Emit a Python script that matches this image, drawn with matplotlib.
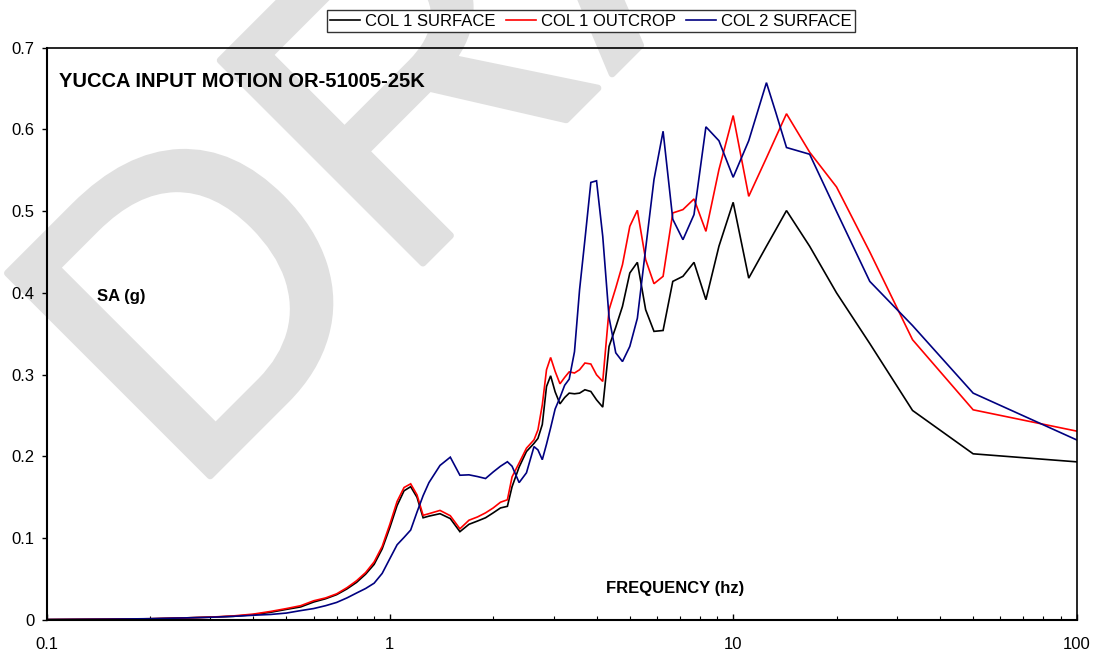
import matplotlib
matplotlib.use("Agg")
import matplotlib.pyplot as plt
from matplotlib import font_manager
from matplotlib.ticker import FixedLocator, FixedFormatter, LogLocator, NullFormatter
import matplotlib.patheffects as pe

# ---------------- data ----------------
freq_hz = [0.10, 0.15, 0.20, 0.25, 0.30, 0.35, 0.40, 0.45, 0.50, 0.55, 0.60, 0.65,
           0.70, 0.75, 0.80, 0.85, 0.90, 0.95, 1.00, 1.05, 1.10, 1.15, 1.20, 1.25,
           1.30, 1.40, 1.50, 1.60, 1.70, 1.80, 1.90, 2.00, 2.10, 2.20, 2.27, 2.38,
           2.50, 2.63, 2.70, 2.78, 2.86, 2.94, 3.03, 3.13, 3.23, 3.33, 3.45, 3.57,
           3.70, 3.85, 4.00, 4.17, 4.35, 4.55, 4.76, 5.00, 5.26, 5.56, 5.88, 6.25,
           6.67, 7.14, 7.69, 8.33, 9.09, 10.0, 11.1, 12.5, 13.3, 14.3, 16.7, 20.0,
           25.0, 33.3, 50.0, 100.0]

col1_surface = [0.0005, 0.001, 0.0015, 0.0025, 0.0035, 0.0045, 0.0065, 0.0095, 0.013, 0.016, 0.022, 0.026,
                0.031, 0.038, 0.046, 0.056, 0.068, 0.087, 0.113, 0.140, 0.158, 0.163, 0.150, 0.125,
                0.127, 0.130, 0.124, 0.108, 0.117, 0.121, 0.125, 0.131, 0.137, 0.139, 0.163, 0.187,
                0.206, 0.216, 0.222, 0.239, 0.2855, 0.2986, 0.279, 0.2643, 0.272, 0.2774, 0.2766, 0.2774,
                0.2815, 0.2794, 0.2692, 0.2603, 0.3345, 0.358, 0.3835, 0.4243, 0.4373, 0.3794, 0.3529, 0.354,
                0.414, 0.4202, 0.4373, 0.3916, 0.457, 0.5107, 0.418, 0.457, 0.477, 0.5006, 0.457, 0.400,
                0.338, 0.2562, 0.2032, 0.1934]

col1_outcrop = [0.0005, 0.001, 0.0015, 0.0025, 0.0035, 0.005, 0.0072, 0.0105, 0.014, 0.0175, 0.0235, 0.027,
                0.032, 0.0395, 0.048, 0.058, 0.071, 0.090, 0.117, 0.145, 0.162, 0.1665, 0.153, 0.128,
                0.130, 0.134, 0.1275, 0.1115, 0.122, 0.126, 0.131, 0.137, 0.144, 0.147, 0.175, 0.192,
                0.2101, 0.2203, 0.2325, 0.263, 0.306, 0.321, 0.304, 0.2888, 0.2966, 0.3034, 0.302, 0.306,
                0.3142, 0.313, 0.2998, 0.2917, 0.3794, 0.406, 0.4345, 0.4814, 0.501, 0.4406, 0.4112, 0.4202,
                0.4977, 0.5018, 0.5148, 0.4752, 0.5507, 0.6168, 0.518, 0.565, 0.590, 0.619, 0.572, 0.5295,
                0.450, 0.3427, 0.257, 0.231]

col2_surface = [0.0005, 0.001, 0.0016, 0.0025, 0.0033, 0.0045, 0.0058, 0.0068, 0.0085, 0.0115, 0.014, 0.0175,
                0.0215, 0.027, 0.033, 0.0385, 0.045, 0.057, 0.075, 0.092, 0.101, 0.110, 0.132, 0.152,
                0.168, 0.189, 0.1991, 0.177, 0.1775, 0.1754, 0.173, 0.181, 0.188, 0.1935, 0.188, 0.168,
                0.180, 0.212, 0.208, 0.196, 0.215, 0.235, 0.258, 0.272, 0.287, 0.2945, 0.328, 0.404,
                0.465, 0.535, 0.537, 0.469, 0.370, 0.3267, 0.316, 0.3345, 0.369, 0.454, 0.5385, 0.5976,
                0.490, 0.465, 0.4957, 0.603, 0.586, 0.5413, 0.586, 0.657, 0.621, 0.5777, 0.5695, 0.4995,
                0.414, 0.360, 0.2774, 0.2203]

series_labels = ["COL 1 SURFACE", "COL 1 OUTCROP", "COL 2 SURFACE"]
series_colors = ["#000000", "#ff0000", "#000080"]

xtick_values = [0.1, 1, 10, 100]
xtick_labels = ["0.1", "1", "10", "100"]
ytick_values = [0, 0.1, 0.2, 0.3, 0.4, 0.5, 0.6, 0.7]
ytick_labels = ["0", "0.1", "0.2", "0.3", "0.4", "0.5", "0.6", "0.7"]

chart_title = "YUCCA INPUT MOTION OR-51005-25K"
y_label = "SA (g)"
x_label = "FREQUENCY (hz)"
watermark = "DRAFT"

# ---------------- fonts ----------------
available = {f.name for f in font_manager.fontManager.ttflist}
base_font = "Liberation Sans" if "Liberation Sans" in available else "DejaVu Sans"
plt.rcParams["font.family"] = [base_font, "DejaVu Sans"]

W, H = 1101, 658
fig = plt.figure(figsize=(W / 100, H / 100), dpi=100)
fig.patch.set_facecolor("white")

# watermark (behind everything)
fig.text(186 / W, 1 - 500 / H, watermark, fontsize=300, family=base_font,
         color="#e0e0e0", rotation=45, rotation_mode="anchor",
         ha="left", va="baseline", zorder=-5,
         path_effects=[pe.withStroke(linewidth=5, foreground="#e0e0e0")])

left, right = 46.5 / W, 1076.5 / W
bottom, top = 1 - 620 / H, 1 - 47.5 / H
ax = fig.add_axes([left, bottom, right - left, top - bottom])
ax.set_facecolor("none")

for vals, lab, col in zip([col1_surface, col1_outcrop, col2_surface], series_labels, series_colors):
    ax.plot(freq_hz, vals, color=col, lw=1.2, label=lab, solid_joinstyle="miter")

ax.set_xscale("log")
ax.set_xlim(0.1, 100)
ax.set_ylim(0, 0.7)

ax.xaxis.set_major_locator(FixedLocator(xtick_values))
ax.xaxis.set_major_formatter(FixedFormatter(xtick_labels))
ax.xaxis.set_minor_locator(LogLocator(base=10, subs=[2, 3, 4, 5, 6, 7, 8, 9], numticks=20))
ax.xaxis.set_minor_formatter(NullFormatter())
ax.yaxis.set_major_locator(FixedLocator(ytick_values))
ax.yaxis.set_major_formatter(FixedFormatter(ytick_labels))

ax.tick_params(axis="x", which="major", direction="in", length=4.2, width=1.0, pad=12, labelsize=12)
ax.tick_params(axis="x", which="minor", direction="in", length=3.0, width=0.8)
ax.tick_params(axis="y", which="major", direction="out", length=3.5, width=1.0, pad=5, labelsize=12)

for side in ["left", "bottom"]:
    ax.spines[side].set_linewidth(1.5)
for side in ["top", "right"]:
    ax.spines[side].set_linewidth(1.2)
for sp in ax.spines.values():
    sp.set_color("black")

fig.text(59 / W, 1 - 81.7 / H, chart_title, fontsize=14.5, fontweight="bold",
         ha="left", va="center")
fig.text(97 / W, 1 - 297 / H, y_label, fontsize=12, fontweight="bold",
         ha="left", va="center")
fig.text(606 / W, 1 - 588 / H, x_label, fontsize=12, fontweight="bold",
         ha="left", va="center")

handles, labels = ax.get_legend_handles_labels()
leg = fig.legend(handles, labels, loc="center", bbox_to_anchor=(591 / W, 1 - 21 / H),
                 ncol=3, frameon=True, fancybox=False, edgecolor="#333333", framealpha=1,
                 fontsize=12, borderpad=0.2, handlelength=1.8, handletextpad=0.3,
                 columnspacing=0.6, borderaxespad=0)
leg.get_frame().set_linewidth(1.0)

fig.savefig("out.png", dpi=100, facecolor="white")
